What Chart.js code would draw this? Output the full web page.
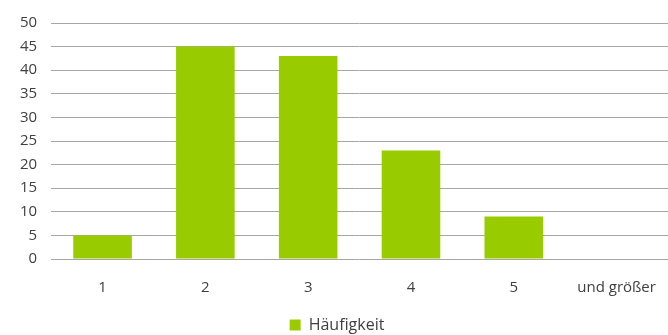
<!DOCTYPE html>
<html>
<head>
<meta charset="utf-8">
<script src="https://cdn.jsdelivr.net/npm/chart.js@4"></script>
<style>
  html, body { margin: 0; padding: 0; background: #fff; }
  #wrap { width: 668px; height: 335px; }
</style>
</head>
<body>
<div id="wrap"><canvas id="chart" width="668" height="335"></canvas></div>
<script>
// Daten
const kategorien = ['1', '2', '3', '4', '5', 'und größer'];
const haeufigkeit = [5, 45, 43, 23, 9, 0];
const yTicks = [0, 5, 10, 15, 20, 25, 30, 35, 40, 45, 50];

const gruen = '#99cc00';
const textFarbe = '#404040';

const ctx = document.getElementById('chart').getContext('2d');
new Chart(ctx, {
    type: 'bar',
    data: {
        labels: kategorien,
        datasets: [{
            label: 'Häufigkeit',
            data: haeufigkeit,
            backgroundColor: gruen,
            borderWidth: 0,
            barPercentage: 0.57,
            categoryPercentage: 1
        }]
    },
    options: {
        responsive: false,
        animation: false,
        layout: { padding: { top: 15, right: 0, left: 6, bottom: -8 } },
        plugins: {
            legend: {
                position: 'bottom',
                labels: {
                    boxWidth: 11,
                    boxHeight: 11,
                    color: textFarbe,
                    font: { family: 'Open Sans', size: 16 },
                    padding: 8
                }
            },
            tooltip: { enabled: false }
        },
        scales: {
            x: {
                grid: { display: false },
                border: { display: false },
                ticks: {
                    color: textFarbe,
                    font: { family: 'Open Sans', size: 15 },
                    padding: 12,
                    maxRotation: 0
                }
            },
            y: {
                min: 0,
                max: 50,
                afterBuildTicks: function(axis) {
                    axis.ticks = yTicks.map(v => ({ value: v }));
                },
                grid: { color: '#a6a6a6', lineWidth: 1, drawTicks: false },
                border: { display: false },
                ticks: {
                    color: textFarbe,
                    font: { family: 'Open Sans', size: 15 },
                    padding: 14
                }
            }
        }
    }
});
</script>
</body>
</html>
